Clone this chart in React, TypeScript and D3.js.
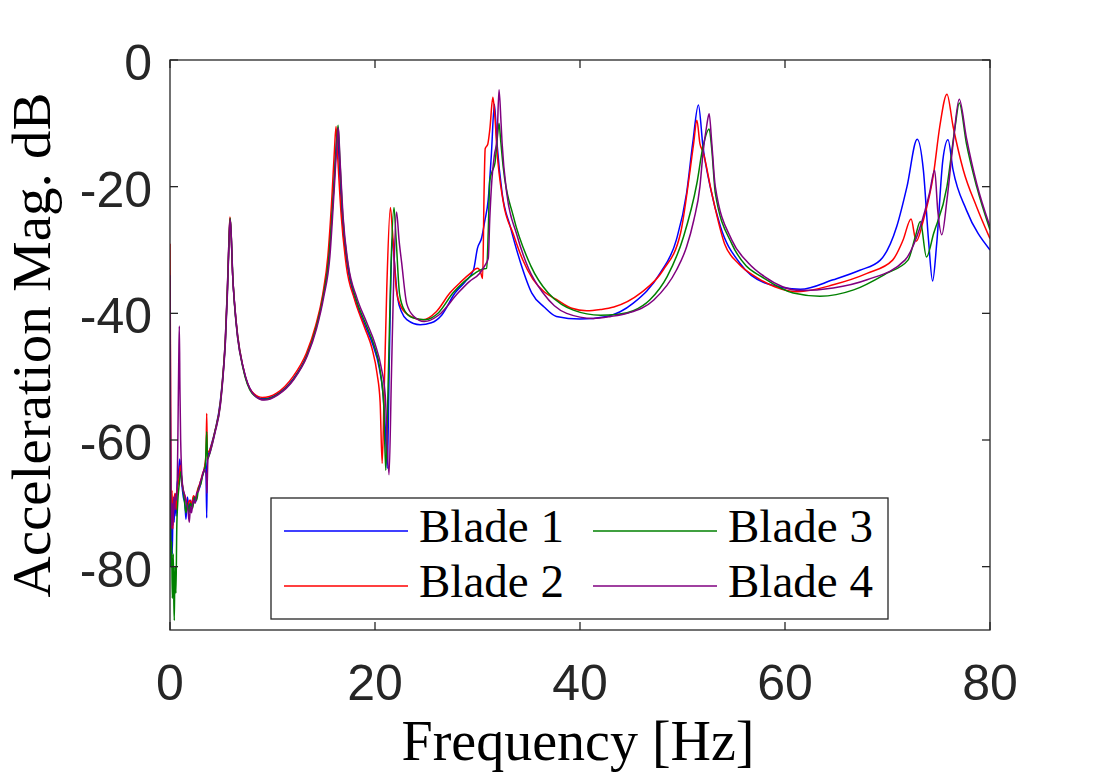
import * as d3 from 'd3';

// Frequency response of the four blades as [Hz, dB]
const blade1: [number, number][] = [
  [0, -47], [0.05, -62], [0.1, -80], [0.15, -72], [0.22, -78], [0.3, -70], [0.4, -73], [0.5, -69],
  [0.6, -72], [0.7, -67], [0.8, -66], [0.95, -63], [1.1, -66], [1.3, -69], [1.45, -70], [1.56, -72.5],
  [1.7, -69], [1.85, -71], [2.0, -69.5], [2.15, -70.5], [2.3, -69], [2.5, -69.8], [2.7, -68], [2.9, -67.5],
  [3.1, -66], [3.3, -65], [3.5, -63.5], [3.58, -72.3], [3.65, -63], [3.9, -61.5], [4.4, -58.5], [4.9, -54],
  [5.2, -49], [5.4, -44], [5.6, -36], [5.75, -28.5], [5.85, -25], [5.95, -27], [6.1, -33.5], [6.3, -38.5],
  [6.6, -43.5], [7.1, -48.3], [8.0, -52.4], [9.1, -53.5], [10.4, -52.8], [12.0, -50.4], [13.3, -46.8],
  [14.2, -42.5], [14.9, -37.5], [15.5, -31], [15.9, -22], [16.2, -14], [16.35, -11], [16.5, -16],
  [16.8, -25], [17.3, -32.5], [18, -37.5], [19, -41.8], [19.8, -45], [20.4, -48.5], [20.8, -53],
  [21.0, -58], [21.2, -64.5], [21.35, -52], [21.5, -38], [21.7, -28], [21.9, -32], [22.2, -37.5],
  [22.6, -39.8], [23.1, -41], [24.4, -41.8], [25.5, -41.5], [26.5, -40.3], [27.8, -36.8], [28.8, -35],
  [29.6, -33.2], [30.0, -29.7], [30.4, -28.1], [30.7, -25.5], [31.05, -22], [31.35, -15], [31.65, -7],
  [31.9, -13.1], [32.4, -21], [33.2, -26.3], [34.2, -32], [35.3, -36.8], [36.5, -39], [37.7, -40.5],
  [40, -40.9], [42.6, -40.5], [45.2, -38.4], [47.8, -33.7], [49.4, -28.4], [50.4, -21], [51.0, -13.1],
  [51.55, -7.1], [52.0, -13.7], [52.7, -20], [53.7, -26.3], [55.6, -32.1], [58.2, -35.3], [61.5, -36.2],
  [64.7, -34.7], [67.3, -33.2], [69.3, -31.6], [70.9, -26.3], [71.9, -20], [72.9, -12.5], [73.5, -17.4],
  [74.0, -28.4], [74.4, -34.9], [74.8, -29], [75.4, -15.8], [75.9, -12.6], [76.4, -17.4], [77.7, -23.7],
  [80, -30],
];

const blade2: [number, number][] = [
  [0, -29], [0.04, -45], [0.08, -62], [0.12, -72], [0.2, -68], [0.28, -74], [0.36, -70], [0.49, -68.4],
  [0.6, -71], [0.7, -68], [0.85, -66.5], [1.0, -64], [1.15, -66.5], [1.3, -68], [1.5, -69], [1.7, -70.5],
  [1.9, -69.5], [2.1, -70], [2.3, -68.8], [2.5, -69.2], [2.7, -67.8], [2.93, -66.8], [3.15, -65.5],
  [3.4, -64], [3.52, -62], [3.58, -55.8], [3.64, -62], [3.9, -61.5], [4.4, -58.5], [4.9, -54.3],
  [5.2, -49], [5.4, -44], [5.6, -36], [5.75, -28.5], [5.85, -24.8], [5.95, -27], [6.1, -33.5],
  [6.3, -38.5], [6.6, -43.5], [7.1, -48.3], [8.0, -52.4], [9.0, -53.3], [10.4, -52.6], [12.0, -50],
  [13.3, -46.3], [14.2, -42], [14.9, -37], [15.4, -31], [15.8, -21.5], [16.05, -14], [16.2, -10.5],
  [16.35, -15], [16.7, -24.5], [17.2, -32.5], [18, -37.8], [19, -42.3], [19.7, -45.5], [20.2, -49.5],
  [20.5, -54], [20.7, -63.7], [20.9, -52], [21.15, -36], [21.5, -23.3], [21.7, -27], [22.1, -36.5],
  [22.5, -38.8], [23.2, -40.2], [24.7, -41], [26, -39.7], [27.3, -36.8], [28.4, -35], [29.3, -33.7],
  [30.0, -32.9], [30.3, -33.5], [30.5, -34.5], [30.65, -20], [30.75, -14], [31.0, -13.3], [31.2, -11],
  [31.5, -5.9], [31.7, -9], [31.9, -14.2], [32.5, -22.3], [33.5, -27.5], [34.4, -31.5], [35.4, -34.6],
  [36.5, -36.6], [37.7, -37.8], [39.2, -39.2], [40.65, -39.6], [42, -39.4], [43.3, -39], [45.9, -36.8],
  [48.1, -33.2], [49.8, -27.4], [50.7, -17.9], [51.1, -13], [51.4, -9.5], [51.7, -13.2], [52.0, -14.5],
  [52.85, -21], [54.1, -29], [55.5, -32.2], [57.1, -34.2], [59, -35.8], [61.2, -36.6], [64.7, -35.5],
  [68, -33.7], [70.5, -31.6], [71.5, -28.5], [72.3, -25.1], [72.8, -28.6], [73.5, -25.3], [74.5, -17.9],
  [75.1, -10.5], [75.8, -5.4], [76.4, -10.5], [77.4, -17.4], [78.7, -23.2], [80, -28.2],
];

const blade3: [number, number][] = [
  [0, -55], [0.05, -70], [0.1, -80], [0.16, -76], [0.22, -85], [0.26, -83.7], [0.32, -78], [0.38, -86],
  [0.42, -88.5], [0.48, -80], [0.58, -84.2], [0.66, -74], [0.75, -70], [0.9, -67], [1.05, -65],
  [1.2, -67], [1.4, -69.5], [1.55, -71.5], [1.7, -70], [1.85, -71.5], [2.0, -70], [2.2, -70.8],
  [2.4, -69], [2.6, -69.5], [2.8, -67.5], [3.0, -67], [3.2, -65.5], [3.45, -64], [3.58, -58.7],
  [3.66, -63], [3.9, -62], [4.4, -58.6], [4.9, -54.5], [5.2, -49.2], [5.4, -44.5], [5.6, -36.5],
  [5.75, -29], [5.87, -25], [5.97, -27.5], [6.12, -34], [6.3, -38.8], [6.6, -43.8], [7.1, -48.5],
  [8.0, -52.6], [9.1, -53.6], [10.4, -52.9], [12.0, -50.5], [13.3, -46.9], [14.2, -42.6], [14.9, -37.7],
  [15.5, -31.3], [15.95, -21], [16.25, -13], [16.4, -10.3], [16.55, -15], [16.85, -24.5], [17.35, -32.3],
  [18.1, -37.5], [19.1, -41.7], [19.9, -45], [20.5, -49], [20.85, -54.5], [21.05, -64.8], [21.3, -50],
  [21.55, -33], [21.85, -23.3], [22.05, -28], [22.4, -37], [22.9, -39.6], [23.7, -40.7], [24.9, -41],
  [26.2, -39.9], [27.6, -36.8], [28.7, -35], [29.8, -33.6], [30.5, -33], [30.9, -32.9], [31.05, -27],
  [31.2, -19], [31.45, -17.5], [31.7, -16.3], [31.95, -12], [32.1, -10], [32.25, -12.5], [32.5, -16.8],
  [33.5, -24.7], [35.2, -32.5], [36.9, -36.8], [38.2, -38.6], [39.35, -39.5], [42, -40.3], [43.6, -40.2],
  [45.2, -39.6], [46.8, -37.9], [48.5, -34.2], [50.1, -27.9], [51.4, -19.5], [52.0, -13.7], [52.6, -10.9],
  [52.85, -14], [53.2, -21], [54.8, -29], [56.2, -32.5], [57.7, -34.2], [60.8, -36.8], [63.4, -37.3],
  [66.7, -36.3], [69.9, -33.7], [72, -31.6], [72.7, -28], [73.2, -25.5], [73.8, -31.1], [74.5, -27.4],
  [75.8, -20], [76.6, -10.5], [77.0, -6.8], [77.7, -13.2], [78.7, -20], [80, -26.8],
];

const blade4: [number, number][] = [
  [0, -34], [0.04, -50], [0.08, -66], [0.13, -74], [0.2, -70], [0.28, -73.5], [0.36, -69], [0.45, -71],
  [0.55, -68.5], [0.65, -69.5], [0.75, -62], [0.85, -48], [0.91, -42], [0.97, -52], [1.04, -60],
  [1.24, -67.4], [1.4, -68.5], [1.6, -70], [1.75, -71], [1.88, -73], [2.0, -70.5], [2.1, -71.5],
  [2.27, -69.5], [2.45, -70], [2.6, -68.4], [2.8, -68], [2.93, -66.8], [3.1, -66], [3.25, -65],
  [3.4, -64.7], [3.55, -66], [3.6, -68.4], [3.7, -63], [3.9, -62], [4.4, -58.8], [4.9, -54.7],
  [5.2, -49.5], [5.4, -44.7], [5.6, -37], [5.75, -29.3], [5.87, -25.2], [5.97, -27.5], [6.12, -34.2],
  [6.32, -39], [6.6, -43.9], [7.15, -48.6], [8.1, -52.7], [9.2, -53.7], [10.5, -52.9], [12.1, -50.4],
  [13.4, -46.7], [14.3, -42.4], [15.0, -37.4], [15.6, -31], [16.0, -21], [16.28, -13.5], [16.42, -10.7],
  [16.58, -15.5], [16.9, -25], [17.4, -32.4], [18.2, -37.4], [19.2, -41.5], [20.0, -44.8], [20.6, -48.5],
  [21.0, -53], [21.37, -65.5], [21.6, -50], [21.85, -33], [22.1, -24], [22.35, -28.5], [22.6, -32],
  [23.1, -38.5], [23.8, -40.5], [24.8, -41.3], [26.2, -40.3], [28.1, -36.8], [29.2, -35], [30.2, -33.7],
  [30.7, -32.5], [31.05, -31.3], [31.2, -25], [31.4, -19], [31.65, -15], [31.9, -12.6], [32.1, -4.7],
  [32.3, -10], [32.4, -13.1], [32.85, -21], [33.8, -27.4], [35.0, -33], [36.4, -36.8], [37.5, -38.8],
  [38.7, -40], [41.3, -40.8], [43, -40.5], [44.6, -40], [47.2, -37.9], [49.4, -33.2], [50.4, -29.5],
  [51.1, -25.3], [51.7, -20], [52.0, -14.7], [52.35, -10.5], [52.6, -8.5], [52.85, -13], [53.2, -20],
  [54.8, -28.4], [56.4, -32], [58.0, -34.2], [61.5, -36.4], [64.7, -36], [68, -34.7], [71.7, -31.6],
  [73.2, -26.3], [74.1, -21], [74.6, -17.4], [74.9, -23.7], [75.3, -27.6], [75.8, -22.1], [76.4, -13.2],
  [77.0, -6.2], [77.7, -12.3], [78.7, -19.5], [80, -26.3],
];

const seriesNames = ['Blade 1', 'Blade 2', 'Blade 3', 'Blade 4'];
const seriesColors = ['#0000ff', '#ff0000', '#008000', '#800080'];
const seriesData = [blade1, blade2, blade3, blade4];

const xTicks = [0, 20, 40, 60, 80];
const yTicks = [-80, -60, -40, -20, 0];

const W = 1094;
const H = 781;
const margin = { left: 170, right: 104, top: 60, bottom: 151 };
const axisColor = '#262626';
const tickFont = '"Liberation Sans", Arial, Helvetica, sans-serif';
const serifFont = '"Liberation Serif", "Times New Roman", serif';

export default function App() {
  const x = d3.scaleLinear().domain([0, 80]).range([margin.left, W - margin.right]);
  const y = d3.scaleLinear().domain([-90, 0]).range([H - margin.bottom, margin.top]);
  const line = d3
    .line<[number, number]>()
    .x((d) => x(d[0]))
    .y((d) => y(d[1]))
    .curve(d3.curveMonotoneX);

  const [x0, x1] = x.range();
  const [y0, y1] = [y(0), y(-90)];
  const tickLen = 8;

  // legend: 2 columns x 2 rows, filled column by column
  const legend = { x: 271, y: 498, w: 617, h: 121 };
  const colX = [284, 593];
  const rowY = [531, 586];

  return (
    <svg
      width={W}
      height={H}
      style={{ position: 'absolute', left: 0, top: 0, background: '#fff' }}
    >
      <defs>
        <clipPath id="plot-clip">
          <rect x={x0} y={y0} width={x1 - x0} height={y1 - y0} />
        </clipPath>
      </defs>
      <rect x={0} y={0} width={W} height={H} fill="#fff" />

      {/* series */}
      <g clipPath="url(#plot-clip)">
        {seriesData.map((d, i) => (
          <path
            key={seriesNames[i]}
            d={line(d) ?? ''}
            fill="none"
            stroke={seriesColors[i]}
            strokeWidth={1.5}
            strokeLinejoin="round"
          />
        ))}
      </g>

      {/* box + ticks */}
      <rect x={x0} y={y0} width={x1 - x0} height={y1 - y0} fill="none" stroke={axisColor} strokeWidth={1.3} />
      {xTicks.map((t) => (
        <g key={'xt' + t}>
          <line x1={x(t)} x2={x(t)} y1={y1} y2={y1 - tickLen} stroke={axisColor} strokeWidth={1.3} />
          <line x1={x(t)} x2={x(t)} y1={y0} y2={y0 + tickLen} stroke={axisColor} strokeWidth={1.3} />
          <text
            x={x(t)}
            y={y1 + 70}
            textAnchor="middle"
            fontFamily={tickFont}
            fontSize={50}
            fill={axisColor}
          >
            {t}
          </text>
        </g>
      ))}
      {yTicks.map((t) => (
        <g key={'yt' + t}>
          <line x1={x0} x2={x0 + tickLen} y1={y(t)} y2={y(t)} stroke={axisColor} strokeWidth={1.3} />
          <line x1={x1} x2={x1 - tickLen} y1={y(t)} y2={y(t)} stroke={axisColor} strokeWidth={1.3} />
          <text
            x={x0 - 18}
            y={y(t) + 20}
            textAnchor="end"
            fontFamily={tickFont}
            fontSize={50}
            fill={axisColor}
          >
            {t}
          </text>
        </g>
      ))}

      {/* axis labels */}
      <text
        x={578}
        y={760}
        textAnchor="middle"
        fontFamily={serifFont}
        fontSize={58}
        textLength={353}
        lengthAdjust="spacingAndGlyphs"
        fill="#000"
      >
        Frequency [Hz]
      </text>
      <text
        transform={`translate(50, ${(y0 + y1) / 2}) rotate(-90)`}
        textAnchor="middle"
        fontFamily={serifFont}
        fontSize={55}
        textLength={505}
        lengthAdjust="spacingAndGlyphs"
        fill="#000"
      >
        Acceleration Mag. dB
      </text>

      {/* legend */}
      <rect
        x={legend.x}
        y={legend.y}
        width={legend.w}
        height={legend.h}
        fill="#fff"
        stroke={axisColor}
        strokeWidth={1.3}
      />
      {seriesNames.map((name, i) => {
        const cx = colX[Math.floor(i / 2)];
        const cy = rowY[i % 2];
        return (
          <g key={'lg' + name}>
            <line x1={cx} x2={cx + 124} y1={cy} y2={cy} stroke={seriesColors[i]} strokeWidth={1.5} />
            <text
              x={cx + 135}
              y={cy + 11}
              fontFamily={serifFont}
              fontSize={46}
              textLength={145}
              lengthAdjust="spacingAndGlyphs"
              fill="#000"
            >
              {name}
            </text>
          </g>
        );
      })}
    </svg>
  );
}
